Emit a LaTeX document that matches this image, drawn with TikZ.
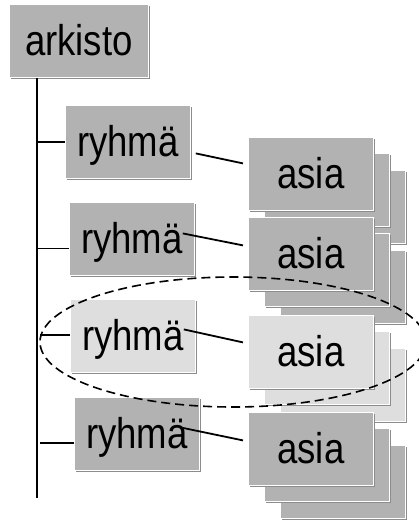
\documentclass[tikz,border=0pt]{standalone}
\usepackage{fontspec}
\setmainfont{Liberation Sans}[FakeStretch=0.85]
\usetikzlibrary{shadows,shapes.geometric}

\tikzstyle{card}=[draw=white,line width=0.8pt,anchor=north west,inner sep=0pt,minimum width=125pt,text height=51pt,text depth=22pt,font=\fontsize{43}{48}\selectfont,drop shadow={shadow xshift=2pt,shadow yshift=-2pt,fill=black!45,opacity=1}]
\tikzstyle{dim}=[fill=black!30]
\tikzstyle{pale}=[fill=black!13]
\tikzstyle{edge}=[draw,line width=1.8pt,-]
\tikzstyle{trunk}=[draw,line width=2.2pt,-]
\tikzstyle{ring}=[draw,line width=1.6pt,dash pattern=on 9pt off 5pt,ellipse,inner sep=0pt]

\begin{document}
\begin{tikzpicture}[x=1pt, y=-1pt]
    \useasboundingbox (0,0) rectangle (419,520);
    % First we draw the root and the groups
    \node[card,dim,minimum width=139pt] (arkisto) at (9,4) {arkisto};
    \foreach \pos/\name/\look in {{(65,105)/r1/dim}, {(69,202)/r2/dim}, {(70,299)/r3/pale}, {(74,397)/r4/dim}}
        \node[card,\look] (\name) at \pos {ryhmä};
    % Stacks of cases, back cards first
    \foreach \x/\y/\name/\look in {248/137/a1/dim, 248/217/a2/dim, 248/315/a3/pale, 248/412/a4/dim} {
        \node[card,\look] (\name-c) at (\x+32,\y+33) {};
        \node[card,\look] (\name-b) at (\x+16,\y+16) {};
        \node[card,\look] (\name) at (\x,\y) {asia};
    }
    % The trunk and its branches
    \coordinate (root) at ([xshift=28pt]arkisto.south west);
    \coordinate (foot) at (37,498);
    \path[trunk] (root) -- (foot);
    \foreach \name/\dy/\len in {r1/0/28, r2/-9.5/32, r3/1/30, r4/-9/34}
        \path[edge] ([yshift=\dy pt]\name.west) -- +(-\len,0);
    % Connect groups with their cases
    \foreach \src/\dst/\sx/\sy/\ex/\ey in {r1/a1/5/-11.5/-5/10.5, r2/a2/-12/5.5/-5/8.5, r3/a3/-12/6.5/-5/9.5, r4/a4/-17/6/-5/8.5}
        \path[edge] ([xshift=\sx pt,yshift=\sy pt]\src.east) -- ([xshift=\ex pt,yshift=\ey pt]\dst.west);
    % The marked group
    \node[ring,minimum width=386pt,minimum height=130pt] (focus) at (233,342) {};
\end{tikzpicture}
\end{document}
